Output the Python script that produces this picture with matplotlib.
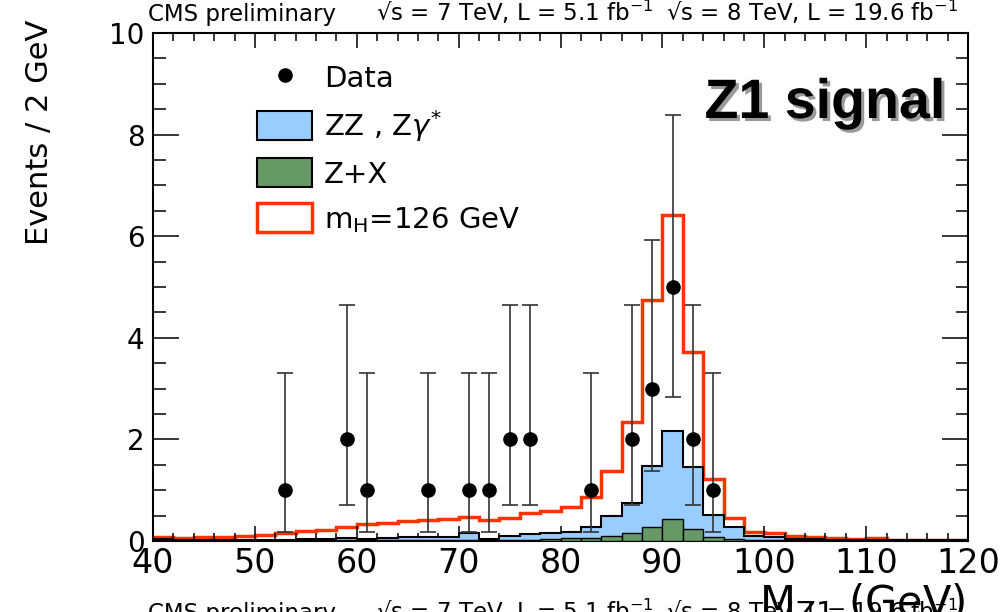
import numpy as np
import matplotlib
matplotlib.use('Agg')
import matplotlib.pyplot as plt
import matplotlib.patheffects as pe
from matplotlib.patches import Patch
from matplotlib.lines import Line2D
from matplotlib.ticker import MultipleLocator

plt.rcParams['font.family'] = ['DejaVu Sans']

# 2 GeV bins from 40 to 120
edges = np.arange(40, 122, 2)

# Z+X (green), per bin
zx = [0.01, 0.01, 0.01, 0.01, 0.01, 0.01, 0.01, 0.01, 0.01,
      0.015, 0.015, 0.015, 0.015, 0.015, 0.015, 0.015, 0.015,
      0.02, 0.02, 0.03, 0.05, 0.06, 0.10, 0.15, 0.28, 0.44, 0.23, 0.07, 0.03,
      0.01, 0.01, 0.01, 0.01, 0.01, 0.01, 0.01, 0.01, 0.01, 0.01, 0.01]
# ZZ, Zgamma* (blue), per bin
zz = [0.02, 0.01, 0.01, 0.01, 0.01, 0.01, 0.01, 0.02, 0.02,
      0.035, 0.015, 0.035, 0.065, 0.065, 0.055, 0.135, 0.025,
      0.08, 0.11, 0.13, 0.13, 0.22, 0.39, 0.59, 1.20, 1.73, 1.22, 0.44, 0.24,
      0.08, 0.07, 0.02, 0.02, 0.01, 0.01, 0.005, 0.0, 0.0, 0.0, 0.0]
# mH = 126 GeV signal, per bin
higgs = [0.05, 0.03, 0.05, 0.06, 0.07, 0.09, 0.13, 0.17, 0.19,
         0.22, 0.30, 0.31, 0.32, 0.33, 0.37, 0.33, 0.37,
         0.36, 0.42, 0.44, 0.48, 0.58, 0.89, 1.60, 3.27, 4.25, 2.28, 0.71, 0.18,
         0.08, 0.07, 0.07, 0.055, 0.03, 0.01, 0.035, 0.01, 0.01, 0.0, 0.005]

# observed events
data_x = [53, 59, 61, 67, 71, 73, 75, 77, 83, 87, 89, 91, 93, 95]
data_n = [1, 2, 1, 1, 1, 1, 2, 2, 1, 2, 3, 5, 2, 1]
data_lo = [0.17, 0.71, 0.17, 0.17, 0.17, 0.17, 0.71, 0.71, 0.17, 0.71, 1.37, 2.84, 0.71, 0.17]
data_hi = [3.30, 4.64, 3.30, 3.30, 3.30, 3.30, 4.64, 4.64, 3.30, 4.64, 5.92, 8.38, 4.64, 3.30]

c_blue = '#99ccff'
c_green = '#669966'
c_red = '#ff3300'

zx = np.array(zx)
bkg = zx + np.array(zz)
tot = bkg + np.array(higgs)

fig = plt.figure(figsize=(10.08, 6.12), dpi=100)
ax = fig.add_axes([153/1008, 71/612, 815/1008, 508/612])

ax.stairs(tot, edges, color=c_red, lw=2.5, zorder=1)
ax.stairs(bkg, edges, fill=True, facecolor=c_blue, edgecolor='k', lw=1.5, zorder=2)
ax.bar(edges[:-1], zx, width=2, align='edge', color=c_green, edgecolor='k', lw=1.0, zorder=3)

n = np.array(data_n)
yerr = [n - np.array(data_lo), np.array(data_hi) - n]
ax.errorbar(data_x, data_n, yerr=yerr, fmt='o', color='k', ecolor='#333333',
            elinewidth=1.2, capsize=6, capthick=1.2, markersize=9.5, zorder=5)

ax.set_xlim(40, 120)
ax.set_ylim(0, 10)
ax.xaxis.set_major_locator(MultipleLocator(10))
ax.xaxis.set_minor_locator(MultipleLocator(2))
ax.yaxis.set_major_locator(MultipleLocator(2))
ax.yaxis.set_minor_locator(MultipleLocator(0.5))
ax.tick_params(which='both', direction='in', top=True, right=True, width=1.1)
ax.tick_params(axis='x', which='major', length=11, labelsize=24, pad=4)
ax.tick_params(axis='x', which='minor', length=6)
ax.tick_params(axis='y', which='major', length=19, labelsize=20, pad=6)
ax.tick_params(axis='y', which='minor', length=9)
for s in ax.spines.values():
    s.set_linewidth(1.5)

fig.text(40/1008, 1 - 132/612, 'Events / 2 GeV', rotation=90, fontsize=22,
         ha='center', va='center')

handles = [Line2D([], [], marker='o', ls='none', color='k', markersize=9.5),
           Patch(facecolor=c_blue, edgecolor='k', lw=1.5),
           Patch(facecolor=c_green, edgecolor='k', lw=1.5),
           Patch(facecolor='white', edgecolor=c_red, lw=2.5)]
labels = ['Data', r'ZZ , Z$\gamma^{*}$', 'Z+X', r'm$_{\mathrm{H}}$=126 GeV']
ax.legend(handles, labels, loc='upper left', bbox_to_anchor=((257-153)/815, (541-63)/508),
          frameon=False, fontsize=21, handlelength=1.9, handleheight=1.15,
          handletextpad=0.4, labelspacing=0.5, borderpad=0, borderaxespad=0)

ax.text((945-153)/815, (541-118)/508, 'Z1 signal', transform=ax.transAxes,
        ha='right', va='baseline', fontsize=40, fontweight='bold',
        family='Liberation Sans',
        path_effects=[pe.SimplePatchShadow(offset=(2.2, -2.2), shadow_rgbFace='0.6', alpha=1),
                      pe.Normal()])

title_parts = [(148, 'CMS preliminary'),
               (376, '√s = 7 TeV, L = 5.1 fb$^{-1}$'),
               (666, '√s = 8 TeV, L = 19.6 fb$^{-1}$')]
for px, t in title_parts:
    fig.text(px/1008, 1 - 21/612, t, fontsize=16.5, ha='left', va='baseline')
    fig.text(px/1008, -8/612, t, fontsize=16.5, ha='left', va='baseline')

fig.text(965/1008, -4/612, r'M$_{\mathrm{Z1}}$ (GeV)', fontsize=30, ha='right', va='baseline')

fig.savefig('out.png', dpi=100)
